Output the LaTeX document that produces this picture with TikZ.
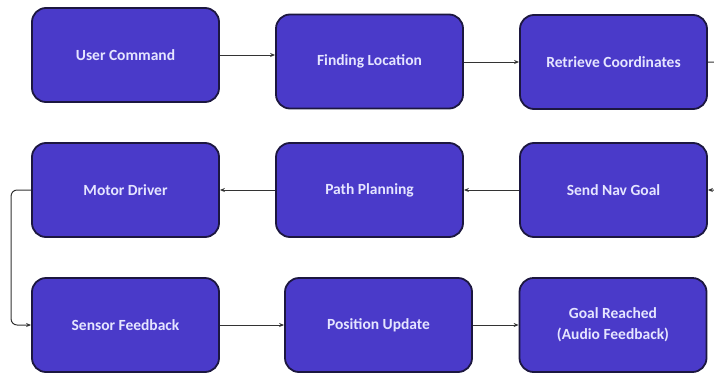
\documentclass[tikz,border=0pt]{standalone}
\usepackage{fontspec}
\setmainfont{Carlito}
\usetikzlibrary{arrows.meta}
\definecolor{boxfill}{HTML}{4A3AC9}
\definecolor{boxline}{HTML}{1C1740}
\definecolor{conn}{HTML}{333333}
\begin{document}
\begin{tikzpicture}[x=1pt,y=-1pt,
  box/.style={draw=boxline, fill=boxfill, line width=1.8pt, rounded corners=14pt,
    minimum width=187pt, minimum height=94pt, align=center,
    text=white!90!blue, font=\fontsize{15.5}{21}\selectfont\bfseries},
  link/.style={draw=conn, line width=1pt, -{Stealth[length=5pt,width=4pt]}}]
\fill[white] (0,0) rectangle (714,372);
\clip (0,0) rectangle (714,372);
\node[box] (uc) at (125.5,55) {User Command};
\node[box] (fl) at (369.5,61.5) {Finding Location};
\node[box] (rc) at (613.5,62) {Retrieve Coordinates};
\node[box] (md) at (125.5,190) {Motor Driver};
\node[box] (pp) at (369.5,190) {Path Planning};
\node[box] (sng) at (613.5,190) {Send Nav Goal};
\node[box] (sf) at (125.5,325) {Sensor Feedback};
\node[box] (pu) at (378.5,325) {Position Update};
\node[box] (gr) at (613,325) {Goal Reached\\(Audio Feedback)};
\coordinate (rt) at (740,62);
\coordinate (rb) at (740,190);
\draw[link] (uc.east) -- (uc.east -| fl.west);
\draw[link] (fl.east |- rc.west) -- (rc.west);
\draw[link, rounded corners=8pt] (rc.east) -- (rt) -- (rb) -- (sng.east);
\draw[link] (sng.west) -- (pp.east);
\draw[link] (pp.west) -- (md.east);
\draw[link, rounded corners=6pt] (md.west) -- ++(-20,0) |- (sf.west);
\draw[link] (sf.east) -- (pu.west);
\draw[link] (pu.east) -- (gr.west);
\end{tikzpicture}
\end{document}
